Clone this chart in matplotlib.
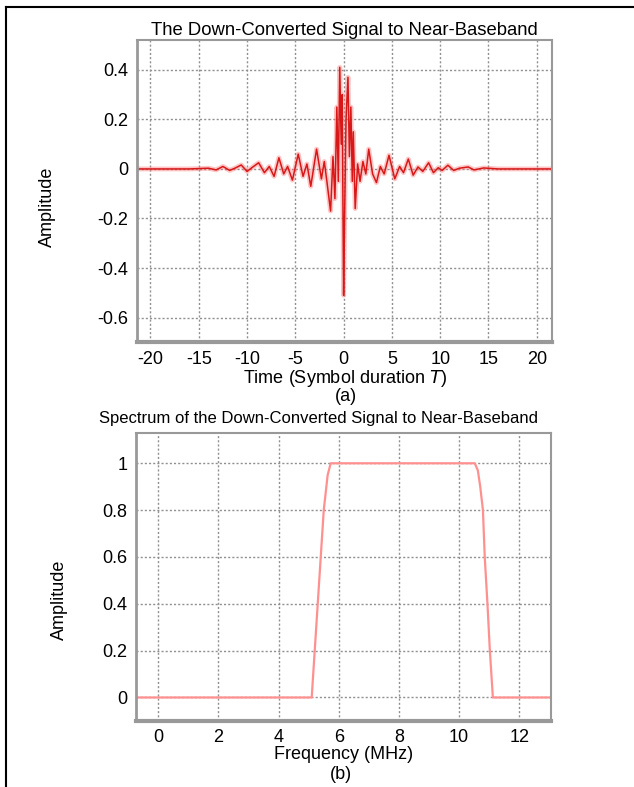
import matplotlib
matplotlib.use('Agg')
import matplotlib.pyplot as plt
from matplotlib.lines import Line2D

plt.rcParams['font.family'] = ['Liberation Sans', 'DejaVu Sans']
plt.rcParams['font.size'] = 13

# time-domain signal (t in symbol durations)
t_sig = [-21.5, -16, -14, -13.2, -12.5, -11.8, -11.2, -10.6, -10.0, -9.5,
         -8.8, -8.2, -7.7, -7.2, -6.7, -6.2, -5.8, -5.3, -4.7, -4.2,
         -3.8, -3.4, -2.8, -2.3, -2.0, -1.7, -1.35, -1.1, -0.9, -0.7,
         -0.55, -0.4, -0.25, -0.15, 0.0, 0.1, 0.25, 0.45, 0.6, 0.75,
         0.9, 1.0, 1.2, 1.45, 1.7, 2.0, 2.3, 2.6, 3.0, 3.4,
         3.8, 4.2, 4.7, 5.3, 5.8, 6.2, 6.7, 7.2, 7.7, 8.2,
         8.8, 9.3, 9.8, 10.2, 10.8, 11.4, 12.0, 12.9, 13.5, 14.5,
         16, 21.5]
amp_sig = [0, 0, 0.003, -0.004, 0.01, -0.006, 0.004, 0.016, -0.01, 0.005,
           0.025, -0.015, 0.01, -0.03, 0.045, -0.02, 0.01, -0.045, 0.06, -0.03,
           0.02, -0.07, 0.08, -0.04, 0.03, -0.06, -0.17, 0.05, -0.12, 0.25,
           -0.05, 0.41, 0.1, 0.3, -0.51, -0.2, 0.2, 0.37, 0.05, 0.25,
           -0.05, 0.15, -0.16, 0.02, -0.05, 0.03, -0.02, 0.08, -0.02, -0.055,
           0.01, -0.02, 0.055, -0.04, 0.01, -0.015, 0.04, -0.025, 0.008, -0.01,
           0.025, -0.015, 0.005, -0.006, 0.015, -0.006, 0.003, 0.008, -0.004, 0.004,
           0, 0]

# spectrum (MHz)
f_spec = [-0.75, 5.1, 5.2, 5.3, 5.4, 5.5, 5.63, 5.73, 10.52, 10.62,
          10.7, 10.79, 10.85, 10.94, 11.02, 11.12, 13.05]
amp_spec = [0, 0, 0.2, 0.4, 0.6, 0.8, 0.95, 1, 1, 0.97,
            0.9, 0.8, 0.6, 0.4, 0.2, 0, 0]

fig = plt.figure(figsize=(6.34, 7.87), dpi=100)

# page border (left and top only)
fig.add_artist(Line2D([0.009, 0.009], [0, 0.991], color='black', lw=1.5,
                      transform=fig.transFigure))
fig.add_artist(Line2D([0.009, 1], [0.991, 0.991], color='black', lw=1.5,
                      transform=fig.transFigure))


def style_axes(ax):
    for side, sp in ax.spines.items():
        sp.set_color('#999999')
        sp.set_linewidth(1.5)
    ax.spines['bottom'].set_linewidth(3)
    ax.spines['left'].set_linewidth(2)
    ax.grid(True, linestyle=(0, (1.5, 1.5)), color='#909090', lw=1)
    ax.set_axisbelow(True)
    ax.tick_params(length=0, pad=6)


ax1 = fig.add_axes([0.216, 0.565, 0.655, 0.384])
ax1.plot(t_sig, amp_sig, color='#ff7070', lw=3.5, alpha=0.4)
ax1.plot(t_sig, amp_sig, color='#d81818', lw=1.1)
ax1.set_xlim(-21.4, 21.6)
ax1.set_ylim(-0.7, 0.52)
ax1.set_xticks([-20, -15, -10, -5, 0, 5, 10, 15, 20])
ax1.set_yticks([-0.6, -0.4, -0.2, 0, 0.2, 0.4])
ax1.set_yticklabels(['-0.6', '-0.4', '-0.2', '0', '0.2', '0.4'])
ax1.set_xticklabels(['-20', '-15', '-10', '-5', '0', '5', '10', '15', '20'])
style_axes(ax1)
ax1.set_title('The Down-Converted Signal to Near-Baseband', pad=4, fontsize=13.3)
ax1.set_xlabel('Time (Symbol duration $\\it{T}$)', labelpad=0)
ax1.set_ylabel('Amplitude')
ax1.yaxis.set_label_coords(-0.195, 0.45)
fig.text(0.545, 0.496, '(a)', ha='center', va='center')

ax2 = fig.add_axes([0.214, 0.084, 0.655, 0.366])
ax2.plot(f_spec, amp_spec, color='#ff9090', lw=1.6)
ax2.set_xlim(-0.75, 13.05)
ax2.set_ylim(-0.1, 1.13)
ax2.set_xticks([0, 2, 4, 6, 8, 10, 12])
ax2.set_yticks([0, 0.2, 0.4, 0.6, 0.8, 1])
ax2.set_yticklabels(['0', '0.2', '0.4', '0.6', '0.8', '1'])
style_axes(ax2)
fig.text(0.502, 0.468, 'Spectrum of the Down-Converted Signal to Near-Baseband',
         ha='center', va='center', fontsize=12)
ax2.set_xlabel('Frequency (MHz)', labelpad=0)
ax2.set_ylabel('Amplitude')
ax2.yaxis.set_label_coords(-0.163, 0.42)
fig.text(0.537, 0.016, '(b)', ha='center', va='center')

plt.savefig('out.png', dpi=100)
